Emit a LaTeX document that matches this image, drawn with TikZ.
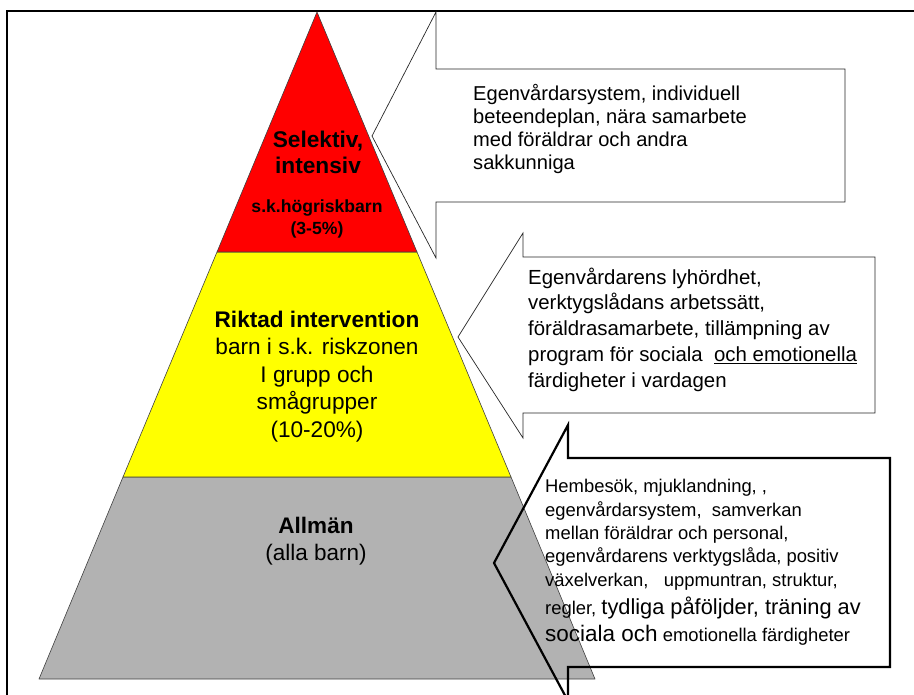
\documentclass[tikz,border=0pt]{standalone}
\usepackage{fontspec}
\setmainfont{Liberation Sans}
\usepackage{tikz}
\definecolor{tiertop}{HTML}{FF0000}
\definecolor{tiermid}{HTML}{FFFF00}
\definecolor{tierbase}{HTML}{B2B2B2}
\begin{document}
\begin{tikzpicture}[x=1pt,y=1pt]
\tikzstyle{every node}+=[inner sep=0pt]
\tikzstyle{tier}=[draw=black!75,line width=0.6pt,line join=round]
\tikzstyle{callout}=[draw=black!85,line width=0.7pt]
\tikzstyle{tiertext}=[anchor=base,align=center]
\tikzstyle{notetext}=[anchor=base west,align=left]
\useasboundingbox (0,0) rectangle (914,-695);
\clip (0,0) rectangle (914,-695);
\draw [black,line width=2pt] (7,-11) rectangle (930,-712);
% pyramid
\draw [tier,fill=tierbase] (123,-477) -- (511,-477) -- (595,-679) -- (39,-679) -- cycle;
\draw [tier,fill=tiermid] (217,-252) -- (417,-252) -- (511,-477) -- (123,-477) -- cycle;
\draw [tier,fill=tiertop] (317,-12) -- (417,-252) -- (217,-252) -- cycle;
% texts sit on the baseline of their last line
\draw (318,-173.5) node[tiertext,font=\fontsize{22.7}{25.5}\selectfont\bfseries] (sel) {Selektiv,\\intensiv};
\draw (317,-235) node[tiertext,font=\fontsize{17.6}{22}\selectfont\bfseries] (selsub) {s.k.högriskbarn\\(3-5\%)};
\draw (317,-437) node[tiertext,font=\fontsize{22.6}{27.5}\selectfont] (rik) {\textbf{Riktad intervention}\\barn i s.k. riskzonen\\I grupp och\\smågrupper\\(10-20\%)};
\draw (316,-560) node[tiertext,font=\fontsize{22.5}{27}\selectfont] (all) {\textbf{Allmän}\\(alla barn)};
% callouts
\draw [callout] (436,-69) -- (845,-69) -- (845,-202) -- (436,-202) -- (436,-258) -- (372,-136) -- (436,-12) -- cycle;
\draw [callout] (523,-257) -- (875,-257) -- (875,-413) -- (523,-413) -- (523,-438) -- (458,-337) -- (523,-233) -- cycle;
\draw [callout,black,line width=2.2pt] (568,-458) -- (890,-458) -- (890,-667) -- (568,-667) -- (568,-701) -- (494,-563) -- (568,-425) -- cycle;
\draw (473,-170) node[notetext,font=\fontsize{20.1}{23.3}\selectfont] (noteA) {Egenvårdarsystem, individuell\\beteendeplan, nära samarbete\\med föräldrar och andra\\sakkunniga};
\draw (528,-388) node[notetext,font=\fontsize{20.4}{26}\selectfont] (noteB) {Egenvårdarens lyhördhet,\\verktygslådans arbetssätt,\\föräldrasamarbete, tillämpning av\\program för sociala\ \ \underline{och emotionella}\\färdigheter i vardagen};
\draw (545,-641) node[notetext,font=\fontsize{18.4}{23.3}\selectfont] (noteC) {Hembesök, mjuklandning, ,\\egenvårdarsystem,\ \ samverkan\\mellan föräldrar och personal,\\egenvårdarens verktygslåda, positiv\\växelverkan,\ \ \ uppmuntran, struktur,\\[4.7pt]regler, {\fontsize{21.8}{23.3}\selectfont tydliga påföljder, träning av}\\[3.7pt]{\fontsize{22.5}{23.3}\selectfont sociala och} emotionella färdigheter};
\end{tikzpicture}
\end{document}
